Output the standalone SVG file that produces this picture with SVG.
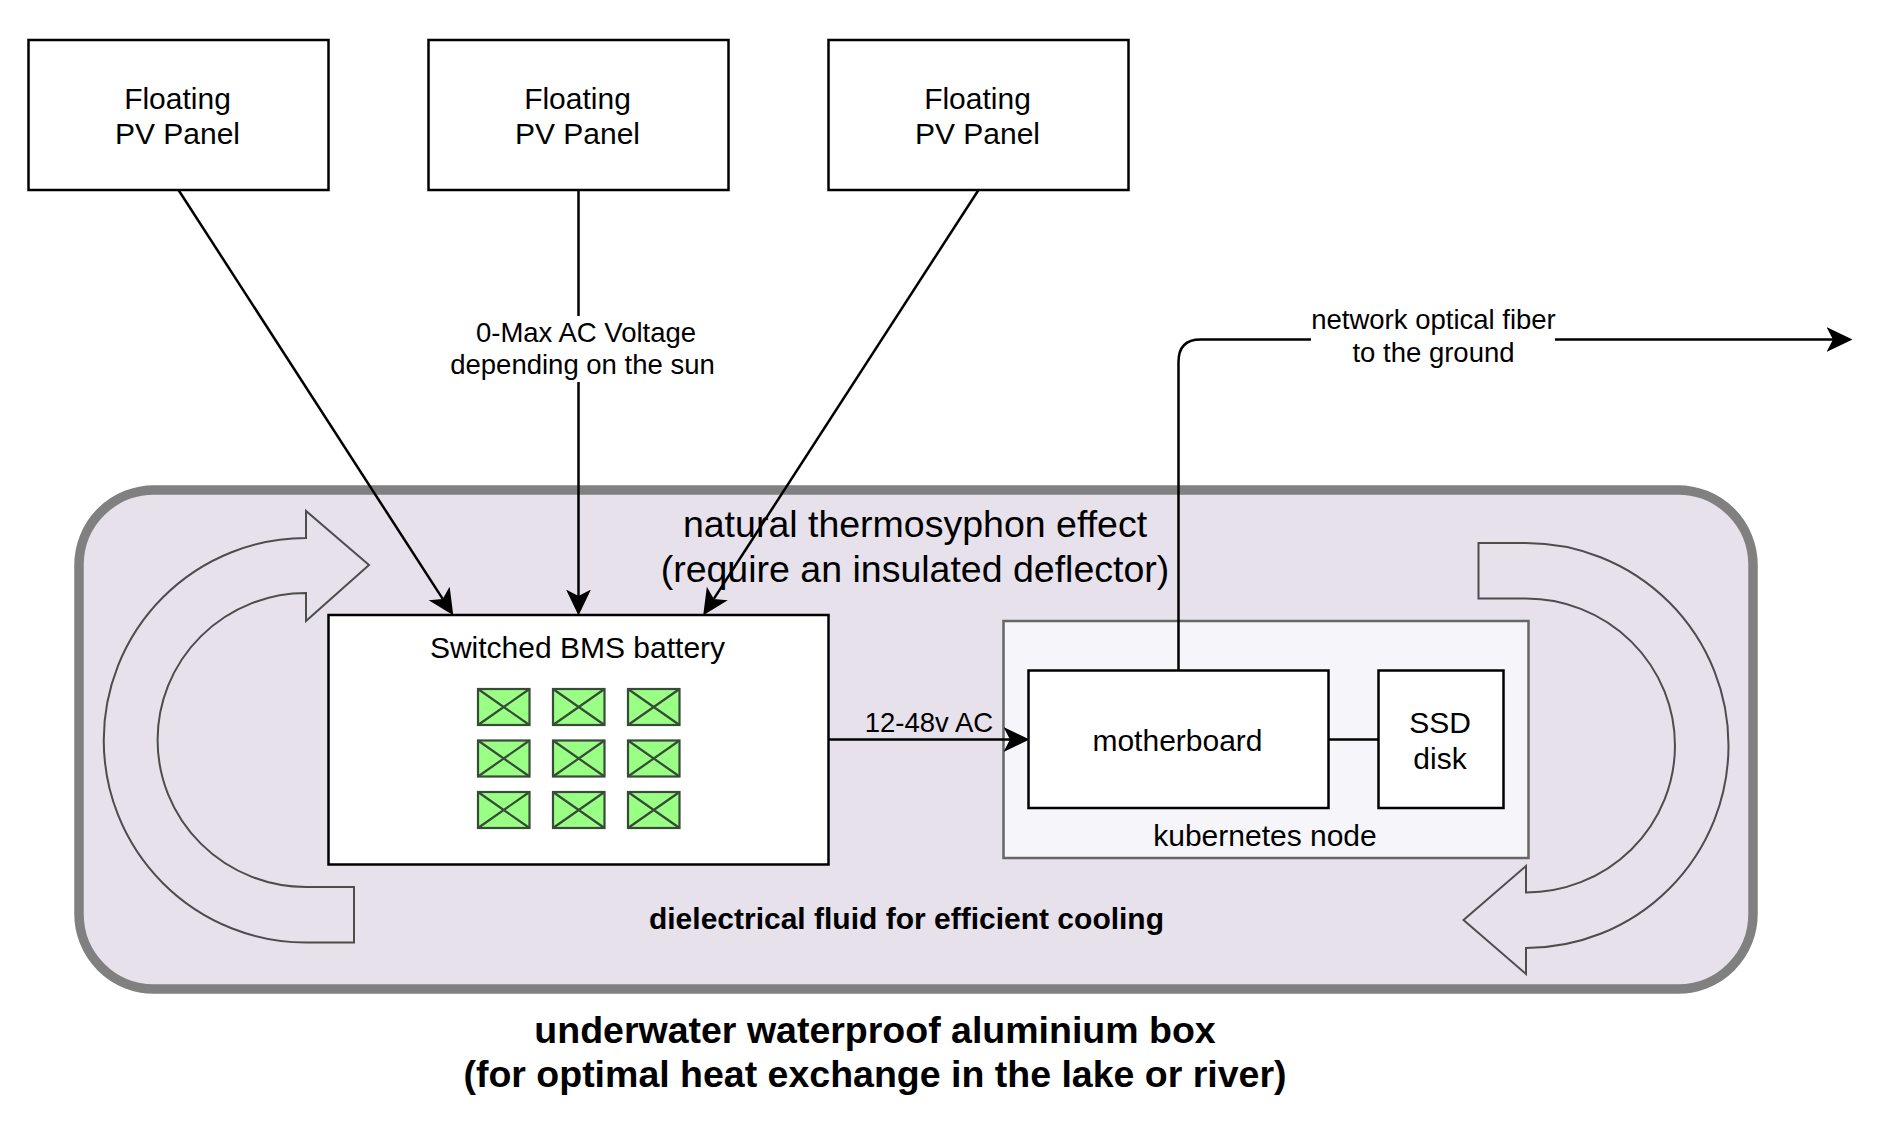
<svg xmlns="http://www.w3.org/2000/svg" width="1888" height="1124" viewBox="0 0 1888 1124">
<style>
text{font-family:"Liberation Sans",Arial,sans-serif;font-size:30px;fill:#000;text-anchor:middle}
.lab{font-size:27.5px}
.big{font-size:37.5px}
.b{font-weight:bold}
.box{fill:#fff;stroke:#000;stroke-width:2.5}
.cell{fill:#99ff85;stroke:#384a38;stroke-width:2.2}
.curve{fill:#e6e1eb;stroke:#4d4d4d;stroke-width:2}
.c{fill:none;stroke:#000;stroke-width:2.5}
.a{marker-end:url(#arrow)}
</style>
<defs>
<marker id="arrow" markerUnits="userSpaceOnUse" markerWidth="26" markerHeight="26" viewBox="0 0 24 24" refX="6" refY="12" orient="auto"><path d="M24,12L0,0.5L6,12L0,23.5Z" fill="#000"/></marker>
<g id="cellshape"><rect class="cell" width="51.5" height="36"/><path class="cell" d="M0,0L51.5,36M51.5,0L0,36" style="fill:none"/></g>
</defs>
<rect width="1888" height="1124" fill="#fff"/>
<g id="aluminium-box"><rect x="79" y="490" width="1674" height="499" rx="75" ry="75" fill="#e6e1eb" stroke="#808080" stroke-width="9.5"/>
<text class="big b" x="875" y="1043">underwater waterproof aluminium box</text>
<text class="big b" x="875" y="1087">(for optimal heat exchange in the lake or river)</text></g>
<g id="flow-left"><path class="curve" d="M306,538A202,202 0 0 0 306,942.5L354,942.5L354,887L306,887A148,146.5 0 0 1 306,593L306,621L369,565L306,511Z"/></g>
<g id="flow-right"><path class="curve" d="M1478.5,543L1526,543A202,202 0 0 1 1526,948L1526,974L1463.5,920L1526,866L1526,892.5A148,146 0 0 0 1526,598.6L1478.5,598.6Z"/></g>
<g id="thermosyphon-label"><text class="big" x="915" y="536.5">natural thermosyphon effect</text>
<text class="big" x="915" y="581.5">(require an insulated deflector)</text></g>
<g id="fluid-label"><text class="b" x="906.5" y="928.5">dielectrical fluid for efficient cooling</text></g>
<g id="panel-1"><rect class="box" x="28.5" y="40" width="300" height="150"/><text x="177.5" y="108.5">Floating</text><text x="177.5" y="144">PV Panel</text></g>
<g id="panel-2"><rect class="box" x="428.5" y="40" width="300" height="150"/><text x="577.5" y="108.5">Floating</text><text x="577.5" y="144">PV Panel</text></g>
<g id="panel-3"><rect class="box" x="828.5" y="40" width="300" height="150"/><text x="977.5" y="108.5">Floating</text><text x="977.5" y="144">PV Panel</text></g>
<g id="battery"><rect class="box" x="328.5" y="615" width="500" height="249.5"/><text x="577.5" y="658">Switched BMS battery</text>
<use href="#cellshape" x="478" y="689"/><use href="#cellshape" x="553" y="689"/><use href="#cellshape" x="628" y="689"/>
<use href="#cellshape" x="478" y="740.5"/><use href="#cellshape" x="553" y="740.5"/><use href="#cellshape" x="628" y="740.5"/>
<use href="#cellshape" x="478" y="792"/><use href="#cellshape" x="553" y="792"/><use href="#cellshape" x="628" y="792"/></g>
<g id="kubernetes-node"><rect x="1003.5" y="621" width="525" height="237" fill="#f6f5fa" stroke="#666" stroke-width="2.5"/><text x="1265" y="846">kubernetes node</text></g>
<g id="connectors">
<path class="c a" d="M178.5,190L442.7,598.9"/>
<path class="c a" d="M578.5,190V596"/>
<path class="c a" d="M978.5,190L713.8,598.9"/>
<path class="c a" d="M829,739.5H1010"/>
<path class="c" d="M1329,739.5H1378"/>
<path class="c a" d="M1178.5,671V362Q1178.5,339.5 1200.5,339.5H1833"/>
</g>
<g id="motherboard"><rect class="box" x="1028.5" y="670.5" width="300" height="137.5"/><text x="1177.5" y="751">motherboard</text></g>
<g id="ssd"><rect class="box" x="1378.5" y="670.5" width="125" height="137.5"/><text x="1440" y="733">SSD</text><text x="1440" y="769">disk</text></g>
<g id="connector-labels">
<rect x="450" y="316" width="266" height="66" fill="#fff"/>
<text class="lab" x="586" y="342">0-Max AC Voltage</text><text class="lab" x="582.5" y="374">depending on the sun</text>
<rect x="1311" y="306" width="244" height="62" fill="#fff"/>
<text class="lab" x="1433.5" y="329">network optical fiber</text><text class="lab" x="1433.5" y="362">to the ground</text>
<text class="lab" x="929" y="732">12-48v AC</text>
</g>
</svg>
